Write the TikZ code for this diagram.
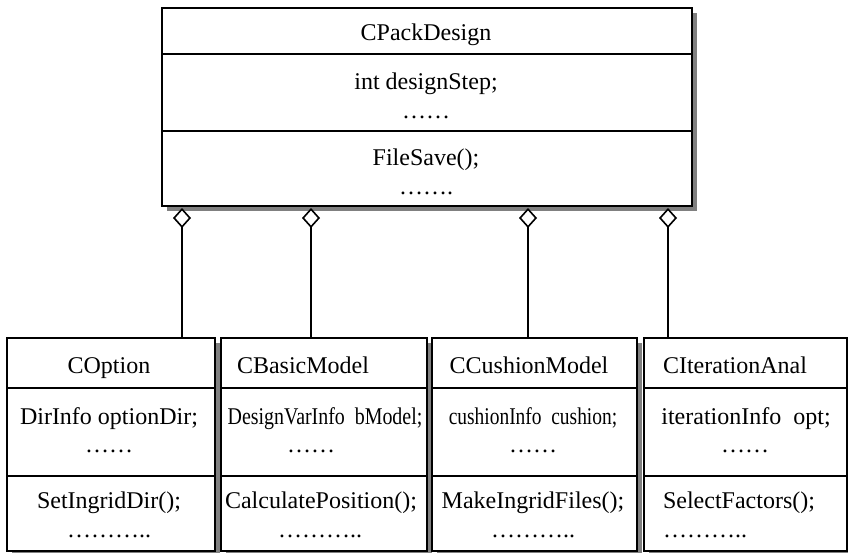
\documentclass[tikz,border=0pt]{standalone}
\usepackage{fontspec}
\setmainfont{Liberation Serif}
\usepackage{graphicx}
\usetikzlibrary{arrows.meta,shadows}
\newcommand{\umltext}{\fontsize{24}{28}\selectfont}

\begin{document}
\begin{tikzpicture}[x=1pt, y=-1pt, every node/.style={font=\umltext},
  box/.style={draw, line width=1.6pt, fill=white, inner sep=0pt, anchor=north west,
    drop shadow={shadow xshift=5pt, shadow yshift=-5pt, opacity=1, fill=gray}},
  txt/.style={anchor=base, inner sep=0pt},
  agg/.style={line width=1.6pt, {Diamond[open, length=20pt, width=18pt]}-}]
\useasboundingbox (0,0) rectangle (848,552);
% container class
\node[box, minimum width=530pt, minimum height=198pt] (pack) at (161,7) {};
\foreach \y in {54,131}
  \draw[line width=1.6pt] (pack.west |- 0,\y) -- (pack.east |- 0,\y);
\node[txt] (pack-n) at (426,40) {CPackDesign};
\node[txt] (pack-a) at (426,89) {int designStep;};
\node[txt] (pack-ad) at (426,118) {……};
\node[txt] (pack-m) at (426,165) {FileSave();};
\node[txt] (pack-md) at (426,194) {…….};
% part classes
\node[box, minimum width=208pt, minimum height=213pt] (option) at (6,337) {};
\node[box, minimum width=206pt, minimum height=213pt] (basic) at (220,337) {};
\node[box, minimum width=205pt, minimum height=213pt] (cushion) at (431,337) {};
\node[box, minimum width=203pt, minimum height=213pt] (iter) at (643,337) {};
\foreach \n in {option,basic,cushion,iter}
  \foreach \y in {388,476}
    \draw[line width=1.6pt] (\n.west |- 0,\y) -- (\n.east |- 0,\y);
\node[txt] (option-n) at (109,373) {COption};
\node[txt] (option-a) at (109,424) {DirInfo optionDir;};
\node[txt] (option-ad) at (109,452) {……};
\node[txt] (option-m) at (109,508) {SetIngridDir();};
\node[txt] (option-md) at (109,537) {………..};
\node[txt] (basic-n) at (303,373) {CBasicModel};
\node[txt] (basic-a) at (325,424) {\scalebox{0.83}[1]{DesignVarInfo\ \ bModel;}};
\node[txt] (basic-ad) at (311,452) {……};
\node[txt] (basic-m) at (321,508) {CalculatePosition();};
\node[txt] (basic-md) at (320,537) {………..};
\node[txt] (cushion-n) at (529,373) {CCushionModel};
\node[txt] (cushion-a) at (533,424) {\scalebox{0.81}[1]{cushionInfo\ \ cushion;}};
\node[txt] (cushion-ad) at (533,452) {……};
\node[txt] (cushion-m) at (533,508) {MakeIngridFiles();};
\node[txt] (cushion-md) at (533,537) {………..};
\node[txt] (iter-n) at (735,373) {CIterationAnal};
\node[txt] (iter-a) at (746,424) {iterationInfo\ \ opt;};
\node[txt] (iter-ad) at (745,452) {……};
\node[txt] (iter-m) at (739,508) {SelectFactors();};
\node[txt] (iter-md) at (705,537) {………..};
% aggregation links
\foreach \x/\c in {182/option, 311/basic, 528/cushion, 668/iter}
  \draw[agg] (\x,208) coordinate (d-\c) -- (d-\c |- \c.north);
\end{tikzpicture}
\end{document}
